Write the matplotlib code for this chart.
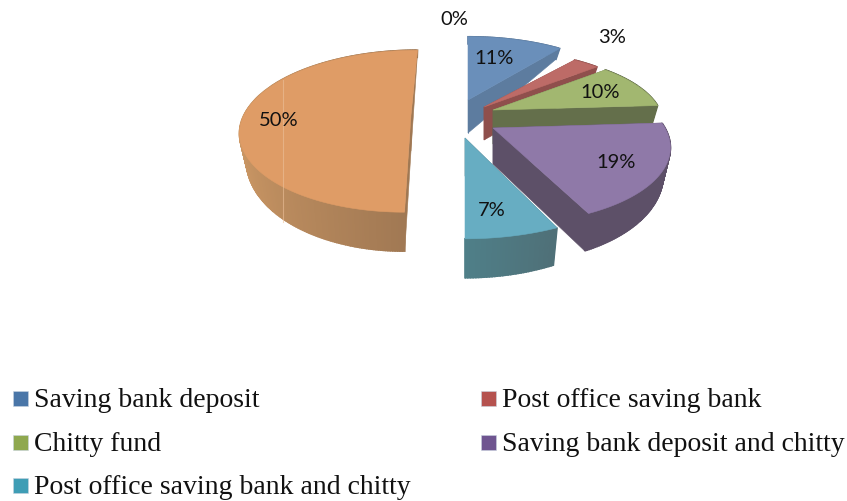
import numpy as np
import matplotlib
matplotlib.use("Agg")
import matplotlib.pyplot as plt
from matplotlib.patches import Polygon, Rectangle

categories = ["Saving bank deposit", "Post office saving bank", "Chitty fund",
              "Saving bank deposit and chitty", "Post office saving bank and chitty", "Other"]
values = [11, 3, 10, 19, 7, 50]
labels = ["11%", "3%", "10%", "19%", "7%", "50%"]
zero_label = "0%"

# layout of every exploded slice: apex, radii, lean, depth at apex
apex_x = [468, 484, 493, 493, 465, 411]
apex_y = [100, 107, 110, 128, 138, 115]
rad_x = [170, 168, 167, 172, 183, 167]
rad_y = [79, 72, 72, 80, 84, 81]
lean = [0, 0, 0, -10, 0, 6.5]
apex_depth = [33, 33, 34, 36, 38, 36]
top_col = ["#6a8fba", "#bd6b67", "#a2b770", "#8f79a8", "#67adc2", "#df9c66"]
side_a = ["#5d7c9f", "#8f4f4c", "#646f4b", "#5d5068", "#4f7f88", "#cf9a66"]
side_b = ["#5d7c9f", "#8f4f4c", "#646f4b", "#5d5068", "#4f7078", "#a07853"]
legend_col = ["#4a76a8", "#b5524f", "#8fa84f", "#6f5590", "#3f9db5"]
legend_x = [13, 481, 13, 481, 13]
legend_y = [391, 391, 435, 435, 478]
label_x = [494, 612, 600, 616, 492, 279]
label_y = [58, 37, 92, 162, 210, 120]
P = 0.2

fig = plt.figure(figsize=(8.47, 5.01), dpi=100)
ax = fig.add_axes([0, 0, 1, 1])
ax.set_xlim(0, 847)
ax.set_ylim(501, 0)
ax.axis("off")


def rim(i, th):
    s = 1 - P * np.cos(th)
    x = apex_x[i] + rad_x[i] * np.sin(th) * s + lean[i] * np.cos(th)
    y = apex_y[i] - rad_y[i] * np.cos(th) * s
    return x, y


def lower(i, x, y, th):
    d = 23 - 15.9 * np.cos(th)
    return apex_x[i] + (x - apex_x[i]) * 0.96, y + d


def mix(a, b, t):
    ca, cb = np.array(matplotlib.colors.to_rgb(a)), np.array(matplotlib.colors.to_rgb(b))
    return tuple(ca + (cb - ca) * t)


edges = np.cumsum([0] + values) / sum(values) * 2 * np.pi
for i in range(len(values)):
    ths = np.linspace(edges[i], edges[i + 1], max(8, int(values[i] * 5)))
    rx, ry = rim(i, ths)
    bx, by = lower(i, rx, ry, ths)
    ax0, ay0 = apex_x[i], apex_y[i]
    dark = mix(side_a[i], side_b[i], 1.0)
    # radial faces
    for k in (0, -1):
        ax.add_patch(Polygon([(ax0, ay0), (rx[k], ry[k]), (bx[k], by[k]),
                              (ax0, ay0 + apex_depth[i])], closed=True,
                             fc=dark, ec=dark, lw=0.4, zorder=i * 3 + 1))
    # outer curved face, shaded along the arc
    n = len(ths) - 1
    order = np.argsort(rx[:-1])
    for rank, j in enumerate(order):
        c = mix(side_a[i], side_b[i], rank / max(n - 1, 1))
        ax.add_patch(Polygon([(rx[j], ry[j]), (rx[j + 1], ry[j + 1]),
                              (bx[j + 1], by[j + 1]), (bx[j], by[j])], closed=True,
                             fc=c, ec=c, lw=1.2, zorder=i * 3 + 1))
    # top face
    ax.add_patch(Polygon(np.column_stack([np.r_[ax0, rx], np.r_[ay0, ry]]), closed=True,
                         fc=top_col[i], ec=top_col[i], lw=0.4, zorder=i * 3 + 2))
    ax.text(label_x[i], label_y[i], labels[i], ha="center", va="center",
            family="Lato", fontsize=14.5, color="#111111", zorder=40)

ax.text(454, 19, zero_label, ha="center", va="center", family="Lato",
        fontsize=14.5, color="#111111", zorder=40)
# faint seam across the large slice
ax.plot([283, 283], [80, 222], color="#ecc09a", lw=0.8, alpha=0.6, zorder=30)

for name, c, x, y in zip(categories[:5], legend_col, legend_x, legend_y):
    ax.add_patch(Rectangle((x, y), 15, 15, fc=c, ec="#c8d4e0", lw=0.4, zorder=20))
    ax.text(x + 21, y + 16, name, ha="left", va="baseline",
            family="Liberation Serif", fontsize=20, color="#111111", zorder=40)

fig.savefig("out.png", dpi=100)
